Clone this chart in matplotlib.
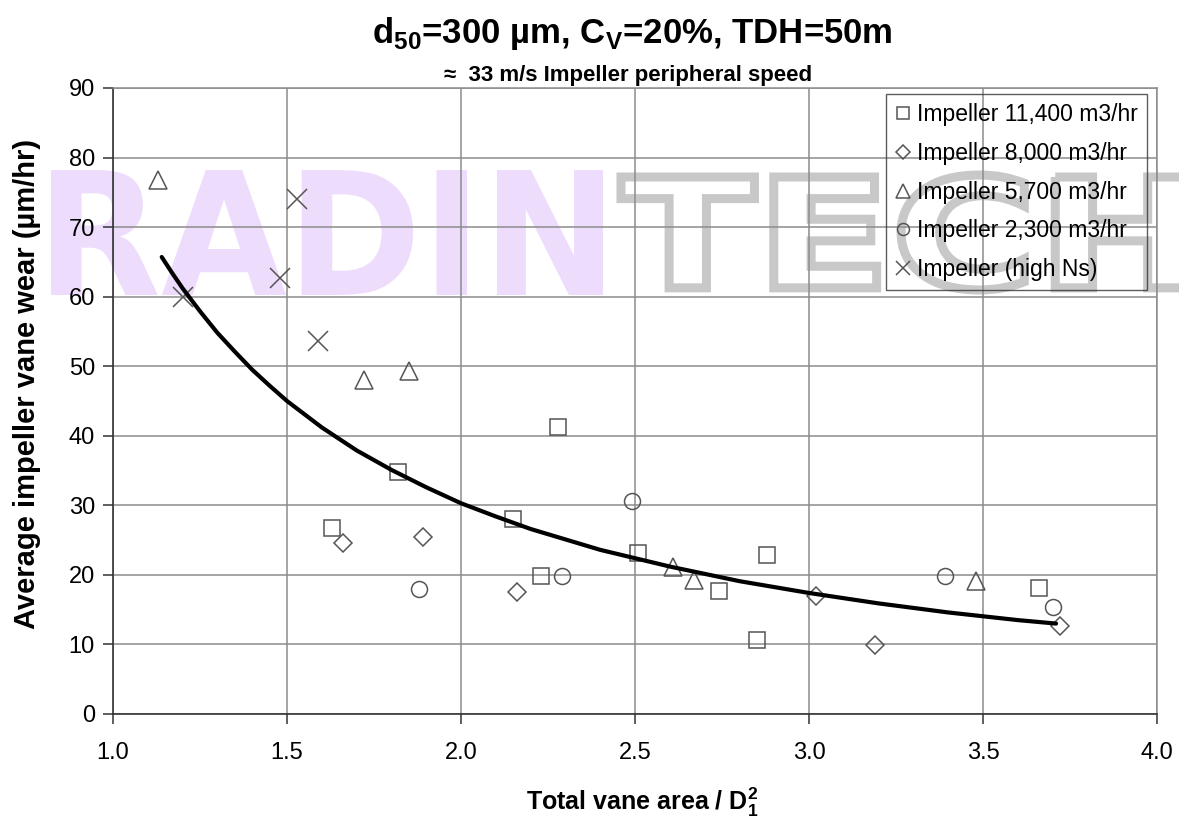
import matplotlib
matplotlib.use('Agg')
import matplotlib.pyplot as plt
from matplotlib.textpath import TextPath
from matplotlib.patches import PathPatch
from matplotlib.font_manager import FontProperties
from matplotlib.transforms import Affine2D

plt.rcParams['font.family'] = ['Liberation Sans', 'DejaVu Sans']
plt.rcParams['mathtext.fontset'] = 'custom'
plt.rcParams['mathtext.rm'] = 'Liberation Sans'
plt.rcParams['mathtext.bf'] = 'Liberation Sans:bold'

# данные
sq_x = [1.63, 1.82, 2.15, 2.28, 2.23, 2.51, 2.74, 2.85, 2.88, 3.66]
sq_y = [26.7, 34.8, 28.0, 41.2, 19.8, 23.1, 17.7, 10.6, 22.9, 18.1]

dm_x = [1.66, 1.89, 2.16, 3.02, 3.19, 3.72]
dm_y = [24.6, 25.4, 17.5, 17.0, 9.9, 12.7]

tr_x = [1.13, 1.72, 1.85, 2.61, 2.67, 3.48]
tr_y = [76.8, 48.0, 49.3, 21.1, 19.3, 19.1]

ci_x = [1.88, 2.29, 2.49, 3.39, 3.70]
ci_y = [18.0, 19.8, 30.6, 19.8, 15.4]

cr_x = [1.20, 1.53, 1.48, 1.59]
cr_y = [60.0, 74.0, 62.7, 53.6]

trend_x = [1.14, 1.17, 1.2, 1.25, 1.3, 1.35, 1.4, 1.45, 1.5, 1.6, 1.7, 1.8,
           1.9, 2.0, 2.1, 2.2, 2.4, 2.6, 2.8, 3.0, 3.2, 3.4, 3.6, 3.71]
trend_y = [65.7, 63.4, 61.2, 57.9, 54.8, 52.1, 49.5, 47.2, 45.0, 41.2, 37.9,
           35.1, 32.6, 30.3, 28.4, 26.6, 23.6, 21.2, 19.1, 17.4, 15.9, 14.6,
           13.5, 13.0]

labels = ['Impeller 11,400 m3/hr', 'Impeller 8,000 m3/hr', 'Impeller 5,700 m3/hr',
          'Impeller 2,300 m3/hr', 'Impeller (high Ns)']

W, H = 1179, 823
fig = plt.figure(figsize=(W / 100, H / 100), dpi=100)
fig.set_facecolor('white')
ax = fig.add_axes([113 / W, 1 - 714 / H, 1044 / W, 626 / H])
ax.set_facecolor('none')


# водяной знак: текст вписывается в заданный прямоугольник (пиксели)
def watermark(s, x0, x1, y0, y1, **kw):
    tp = TextPath((0, 0), s, size=100,
                  prop=FontProperties(family='DejaVu Sans', weight='bold'))
    bb = tp.get_extents()
    t = Affine2D().translate(-bb.x0, -bb.y0) \
        .scale((x1 - x0) / bb.width / W, (y1 - y0) / bb.height / H) \
        .translate(x0 / W, 1 - y1 / H) + fig.transFigure
    p = PathPatch(tp, transform=t, zorder=-5, **kw)
    fig.add_artist(p)


watermark('RADIN', 51, 603, 170, 295, facecolor='#eedcfd', edgecolor='none')
watermark('TECH', 621, 1185, 175, 290, facecolor='none', edgecolor='#c8c8c8', linewidth=6.5)

mc = '#555555'
ax.plot(sq_x, sq_y, 's', ms=12, mfc='none', mec=mc, mew=1.1, label=labels[0], zorder=3)
ax.plot(dm_x, dm_y, 'D', ms=9, mfc='none', mec=mc, mew=1.1, label=labels[1], zorder=3)
ax.plot(tr_x, tr_y, '^', ms=13, mfc='none', mec=mc, mew=1.1, label=labels[2], zorder=3)
ax.plot(ci_x, ci_y, 'o', ms=11.5, mfc='none', mec=mc, mew=1.1, label=labels[3], zorder=3)
ax.plot(cr_x, cr_y, 'x', ms=14, mfc='none', mec=mc, mew=1.1, label=labels[4], zorder=3)
ax.plot(trend_x, trend_y, color='black', linewidth=3, zorder=4,
        solid_capstyle='round', solid_joinstyle='round')

ax.set_xlim(1.0, 4.0)
ax.set_ylim(0, 90)
ax.set_xticks([1.0, 1.5, 2.0, 2.5, 3.0, 3.5, 4.0])
ax.set_xticklabels(['1.0', '1.5', '2.0', '2.5', '3.0', '3.5', '4.0'])
ax.set_yticks(range(0, 91, 10))
ax.tick_params(axis='both', direction='out', length=7, width=1.1, color='#333333',
               labelsize=17, labelcolor='black')
ax.tick_params(axis='x', pad=13)
ax.tick_params(axis='y', pad=6)
ax.grid(True, color='#8c8c8c', linewidth=1.1)
ax.set_axisbelow(True)
for s in ['top', 'right']:
    ax.spines[s].set_color('#8c8c8c')
    ax.spines[s].set_linewidth(1.1)
for s in ['left', 'bottom']:
    ax.spines[s].set_color('#333333')
    ax.spines[s].set_linewidth(1.2)

leg = ax.legend(loc='upper right', bbox_to_anchor=(0.990, 0.990), borderaxespad=0,
                fontsize=16.5, frameon=True, fancybox=False, markerscale=0.75,
                handlelength=0.7, handletextpad=0.25, labelspacing=0.68, borderpad=0.4)
leg.get_frame().set_facecolor('none')
leg.get_frame().set_edgecolor('#333333')
leg.get_frame().set_linewidth(1.0)

fig.text(632 / W, 1 - 34 / H, 'd$_{\\mathbf{50}}$=300 \u00b5m, C$_{\\mathbf{V}}$=20%, TDH=50m',
         ha='center', va='center', fontsize=25, fontweight='bold')
fig.text(628 / W, 1 - 75 / H, '\u2248  33 m/s Impeller peripheral speed',
         ha='center', va='center', fontsize=16, fontweight='bold')
fig.text(642 / W, 1 - 802 / H, 'Total vane area / D$_{\\mathbf{1}}^{\\mathbf{2}}$',
         ha='center', va='center', fontsize=18, fontweight='bold')
fig.text(27 / W, 1 - 384 / H, 'Average impeller vane wear (\u00b5m/hr)',
         ha='center', va='center', rotation=90, fontsize=21, fontweight='bold')

fig.savefig('out.png', dpi=100)
